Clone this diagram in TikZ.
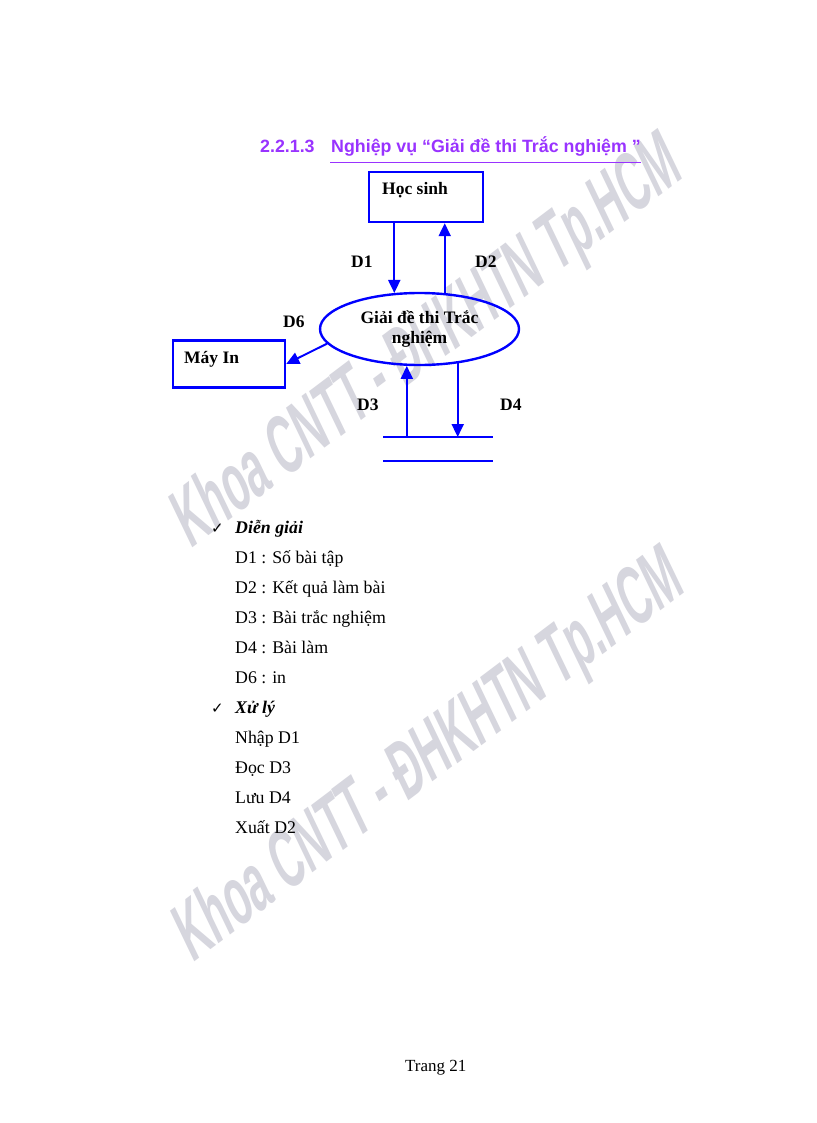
\documentclass[tikz,border=0pt]{standalone}
\usepackage{fontspec}
\setmainfont{Liberation Serif}
\newfontfamily\headfont{Liberation Sans}
\newfontfamily\symfont{DejaVu Sans}
\usetikzlibrary{arrows.meta,shapes.geometric}
\definecolor{flowblue}{RGB}{0,0,255}
\definecolor{headpurple}{RGB}{153,51,255}
\definecolor{wmgray}{RGB}{214,214,222}
\begin{document}
\begin{tikzpicture}[x=1pt,y=-1pt,
  flow/.style={draw=flowblue, line width=2pt, -{Triangle[length=13pt,width=12pt]}},
  boxnode/.style={draw=flowblue, line width=2.4pt, rectangle, inner sep=0pt},
  procnode/.style={draw=flowblue, line width=2.4pt, ellipse, inner sep=0pt, minimum width=199pt, minimum height=72pt, align=center, font=\fontsize{17.5}{20}\selectfont\bfseries},
  lbl/.style={font=\fontsize{17.5}{20}\selectfont\bfseries, inner sep=0pt, anchor=base west},
  body/.style={font=\fontsize{17.8}{20}\selectfont, inner sep=0pt, anchor=base west},
  bodyhead/.style={font=\fontsize{17.8}{20}\selectfont\bfseries\itshape, inner sep=0pt, anchor=base west},
  tick/.style={font=\symfont\fontsize{15}{17}\selectfont, inner sep=0pt, anchor=base west},
  headtext/.style={font=\headfont\fontsize{17.8}{20}\selectfont\bfseries, text=headpurple, inner sep=0pt, anchor=base west},
  storeline/.style={draw=flowblue, line width=2pt},
  wm/.style={text=wmgray, font=\headfont\fontsize{80}{84}\selectfont\bfseries, inner sep=0pt, anchor=base west, rotate=37, xslant=0.2, xscale=0.53},
]
\fill[white] (0,0) rectangle (816,1123);
\useasboundingbox (0,0) rectangle (816,1123);

% watermarks
\node[wm] (wm1) at (190,550) {Khoa CNTT - ĐHKHTN Tp.HCM};
\node[wm] (wm2) at (192,964) {Khoa CNTT - ĐHKHTN Tp.HCM};

% heading
\node[headtext] (hnum) at (260,153) {2.2.1.3};
\node[headtext] (htitle) at (331,153) {Nghiệp vụ “Giải đề thi Trắc nghiệm ”};
\draw[headpurple, line width=1pt] ([xshift=-1pt,yshift=-10pt]htitle.base west) -- ([yshift=-10pt]htitle.base east);

% diagram
\node[boxnode, minimum width=114pt, minimum height=50pt] (hs) at (426,197) {};
\node[lbl] (hst) at (382,195) {Học sinh};
\node[procnode] (proc) at (419.5,329) {Giải đề thi Trắc\\nghiệm};
\node[boxnode, minimum width=112pt, minimum height=47pt] (mi) at (229,364) {};
\node[lbl] (mit) at (184,363) {Máy In};

\coordinate (sa) at (383,437);
\coordinate (sb) at (493,437);
\coordinate (sc) at (383,461);
\coordinate (sd) at (493,461);
\draw[storeline] (sa) -- (sb);
\draw[storeline] (sc) -- (sd);

\draw[flow] (proc.125 |- hs.south) -- (proc.125);
\draw[flow] (proc.55) -- (proc.55 |- hs.south);
\draw[flow] (proc.189) -- (mi.east);
\draw[flow] (proc.251 |- sa) -- (proc.251);
\draw[flow] (proc.318) -- (proc.318 |- sa);

\node[lbl] (ld1) at (351,267) {D1};
\node[lbl] (ld2) at (475,267) {D2};
\node[lbl] (ld6) at (283,327) {D6};
\node[lbl] (ld3) at (357,410) {D3};
\node[lbl] (ld4) at (500,410) {D4};

% explanation
\node[tick] (t1) at (211,533) {✓};
\node[bodyhead] (dg) at (235,533) {Diễn giải};
\node[body] (b1) at (235,563) {D1 : Số bài tập};
\node[body] (b2) at (235,593) {D2 : Kết quả làm bài};
\node[body] (b3) at (235,623) {D3 : Bài trắc nghiệm};
\node[body] (b4) at (235,653) {D4 : Bài làm};
\node[body] (b6) at (235,683) {D6 : in};
\node[tick] (t2) at (211,713) {✓};
\node[bodyhead] (xl) at (235,713) {Xử lý};
\node[body] (p1) at (235,743) {Nhập D1};
\node[body] (p2) at (235,773) {Đọc D3};
\node[body] (p3) at (235,803) {Lưu D4};
\node[body] (p4) at (235,833) {Xuất D2};

\node[body, font=\fontsize{17}{20}\selectfont] (pg) at (405,1071) {Trang 21};
\end{tikzpicture}
\end{document}
